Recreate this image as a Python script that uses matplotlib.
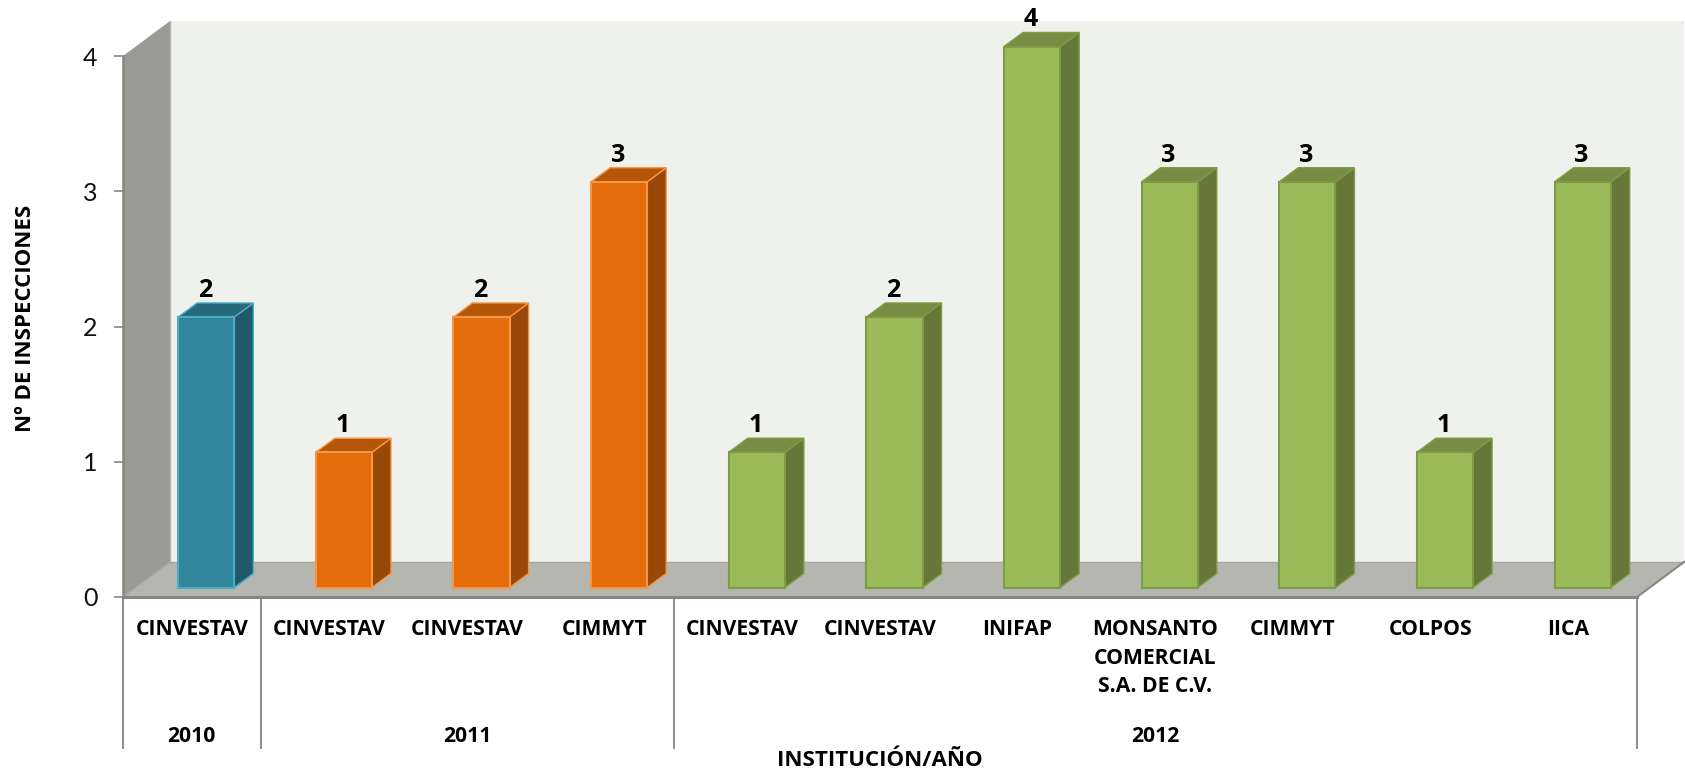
import matplotlib
matplotlib.use('Agg')
import matplotlib.pyplot as plt

plt.rcParams['font.family'] = ['Lato', 'DejaVu Sans']

# Data
categories = ['CINVESTAV', 'CINVESTAV', 'CINVESTAV', 'CIMMYT', 'CINVESTAV', 'CINVESTAV', 'INIFAP',
              'MONSANTO\nCOMERCIAL\nS.A. DE C.V.', 'CIMMYT', 'COLPOS', 'IICA']
values = [2, 1, 2, 3, 1, 2, 4, 3, 3, 1, 3]
years = ['2010', '2011', '2012']
year_counts = [1, 3, 7]
y_ticks = [0, 1, 2, 3, 4]

# face, top, side, edge per year
year_colors = {
    '2010': ('#31859C', '#276A7C', '#215968', '#4BACC6'),
    '2011': ('#E46C0A', '#B65608', '#984807', '#F79646'),
    '2012': ('#9BBB59', '#768D43', '#65783A', '#7E9C45'),
}

W, H = 1685, 770
AX_L, AX_R, AX_TOP, AX_BOT = 123, 1637, 56, 597
BOLD_FONT = ['Open Sans', 'DejaVu Sans']

# 3D look, given in data units (category / value)
WALL_DX, WALL_DY = 0.342, 0.259
BAR_DX, BAR_DY = 0.138, 0.104
BAR_W = 0.408
BAR_SHIFT = 0.105
BAR_LIFT = 0.07

fig = plt.figure(figsize=(W / 100, H / 100), dpi=100)
ax = fig.add_axes([AX_L / W, 1 - AX_BOT / H, (AX_R - AX_L) / W, (AX_BOT - AX_TOP) / H])
ax.set_xlim(0, len(categories))
ax.set_ylim(0, 4)
ax.patch.set_alpha(0)
for s in ax.spines.values():
    s.set_visible(False)

n = len(categories)
top = 4 + WALL_DY

# walls and floor
ax.fill([WALL_DX, n + WALL_DX, n + WALL_DX, WALL_DX], [WALL_DY, WALL_DY, top, top],
        color='#EFF2EC', lw=0, clip_on=False, zorder=1)
ax.fill([0, WALL_DX, WALL_DX, 0], [0, WALL_DY, top, 4],
        color='#9A9C94', lw=0, clip_on=False, zorder=2)
ax.fill([0, WALL_DX, n + WALL_DX, n], [0, WALL_DY, WALL_DY, 0],
        color='#B4B6AF', lw=0, clip_on=False, zorder=2)
ax.plot([WALL_DX, n + WALL_DX], [WALL_DY, WALL_DY], color='#A5A7A1', lw=1, clip_on=False, zorder=3)
ax.plot([WALL_DX, WALL_DX], [WALL_DY, top], color='#B4B6AF', lw=1, clip_on=False, zorder=3)
ax.plot([0, WALL_DX], [0, WALL_DY], color='#A5A7A1', lw=1, clip_on=False, zorder=3)
ax.plot([n, n + WALL_DX], [0, WALL_DY], color='#868686', lw=1.5, clip_on=False, zorder=3)

# bars
bar_years = []
for year, count in zip(years, year_counts):
    bar_years += [year] * count

for i, (v, year) in enumerate(zip(values, bar_years)):
    face, top_c, side_c, edge = year_colors[year]
    x0 = i + 0.5 + BAR_SHIFT - BAR_W / 2
    x1 = x0 + BAR_W
    y0 = BAR_LIFT
    y1 = v + BAR_LIFT
    ax.fill([x1, x1 + BAR_DX, x1 + BAR_DX, x1], [y0, y0 + BAR_DY, y1 + BAR_DY, y1],
            facecolor=side_c, edgecolor=edge, lw=1, clip_on=False, zorder=4)
    ax.fill([x0, x0 + BAR_DX, x1 + BAR_DX, x1], [y1, y1 + BAR_DY, y1 + BAR_DY, y1],
            facecolor=top_c, edgecolor=edge, lw=1, clip_on=False, zorder=4)
    ax.bar(x0, v, width=BAR_W, bottom=y0, align='edge', facecolor=face, edgecolor=edge,
           lw=1.5, clip_on=False, zorder=5)
    ax.annotate(str(v), (x0 + BAR_W / 2, y1 + BAR_DY), xytext=(-1, 0), textcoords='offset points',
                ha='center', va='bottom', fontsize=18, fontweight='bold', color='black',
                family=BOLD_FONT, annotation_clip=False, zorder=6)

# axes lines and ticks
ax.plot([0, n], [0, 0], color='#868686', lw=2.2, clip_on=False, zorder=3)
ax.plot([0, 0], [0, 4], color='#868686', lw=1.8, clip_on=False, zorder=3)

ax.set_yticks(y_ticks)
ax.tick_params(axis='y', length=6.5, width=1.2, color='#868686', pad=12, labelsize=18, labelcolor='#111111')
ax.set_xticks([i + 0.5 for i in range(n)])
ax.set_xticklabels(categories, fontsize=15.2, fontweight='bold', linespacing=1.46, va='top', family=BOLD_FONT)
ax.tick_params(axis='x', length=0, pad=16)

# year brackets below the categories
trans = ax.get_xaxis_transform()
divider_bottom = -(748 - AX_BOT) / (AX_BOT - AX_TOP)
year_y = -(736 - AX_BOT) / (AX_BOT - AX_TOP)
pos = 0
ax.plot([0, 0], [0, divider_bottom], color='#8C8C8C', lw=1.4, transform=trans, clip_on=False)
for year, count in zip(years, year_counts):
    ax.plot([pos + count, pos + count], [0, divider_bottom], color='#8C8C8C', lw=1.4,
            transform=trans, clip_on=False)
    ax.text(pos + count / 2, year_y, year, transform=trans, ha='center', va='center',
            fontsize=15.2, fontweight='bold', color='black', family=BOLD_FONT)
    pos += count

fig.text(880 / W, 1 - 760 / H, 'INSTITUCIÓN/AÑO', ha='center', va='center',
         fontsize=16, fontweight='bold', color='black', family=BOLD_FONT)
fig.text(26 / W, 1 - 318 / H, 'Nº DE INSPECCIONES', ha='center', va='center', rotation=90,
         fontsize=16, fontweight='bold', color='black', family=BOLD_FONT)

fig.savefig('out.png', dpi=100, facecolor='white')
